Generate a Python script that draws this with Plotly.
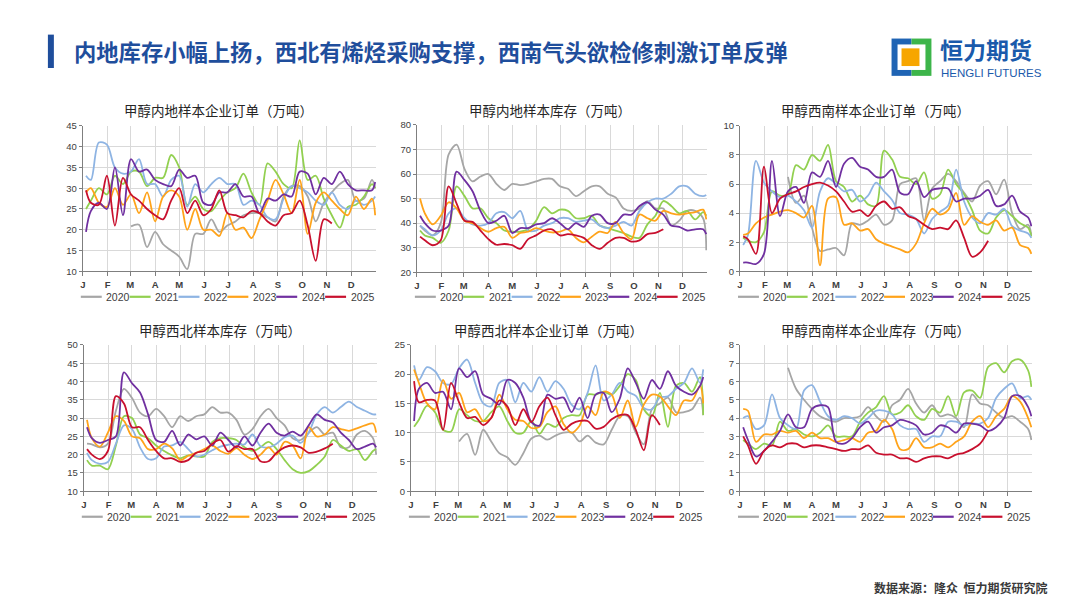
import plotly.graph_objects as go

W, H = 1080, 608
N = None

# sampling days (day-of-year) shared by every series
DAYS = [4] + list(range(10, 361, 10)) + [364]
YEARS = ["2020", "2021", "2022", "2023", "2024", "2025"]
COLORS = ["#a6a6a6", "#92d050", "#8eb4e3", "#ffa31a", "#7030a0", "#c8102e"]
MONTH_TICKS = [0, 31, 59, 90, 120, 151, 181, 212, 243, 273, 304, 334]
MONTH_LABELS = ["J", "F", "M", "A", "M", "J", "J", "A", "S", "O", "N", "D"]

# ---- 甲醇内地样本企业订单 ----
P1_2020 = [N]*6 + [20.8,21.2,15.8,19.5,16.5,15,13.5,10.5,19,19,22.5,19.5,21,22,23.5,24,24,23,22,28,30.5,30.5,28,22,26.5,29,31,32,27,27.5,32,30]
P1_2021 = [25,27,30,28.5,33,31,34,34,30.5,32.5,32.5,38,35,26,28,25,24.5,27,29,30,33.5,29,26,36,34,31,30,41.5,32,33,27.5,23.5,20.5,25.5,26,28,31,30]
P1_2022 = [33,32,41,40.5,35,33.5,34,37,31,31,28,32,33,25.5,31,29,31,32.5,31,31,26,27,26,23,22.5,27.5,30.5,30,29,27,26,29,26,25,27,26,27,28]
P1_2023 = [29,30,26.5,25.5,30,26,28.5,24,29,22,28,29.5,28,20,25,20,20,18.5,24,20,20.5,18,22.5,27,32,28.5,24,32,19,26.5,29,27,25,23.5,28,25,27.5,23.5]
P1_2024 = [19.5,24.5,26.5,25,35,23.5,37,34,34.5,32,31,30.5,34.5,32.5,33,26.5,26,29,29,31,28,28,24,27.5,27,28.5,28,34,33.5,28.5,32.5,31,34,31,29.5,29.5,29.5,31.5]
P1_2025 = [29.5,26.5,26,33,21,32.5,28.5,27,25,23.5,22.5,27,30,24,27,23.5,25,29.5,24,23.5,23,24.5,24,22,21,23.5,24,27,21,12.5,22.5,21.5] + [N]*6

# ---- 甲醇内地样本库存 ----
P2_2020 = [39,37,35,40,68,72,62,57,59,60,56,53.5,56,55.5,56,57,58,58,55,54,51,53,55,55,52,50.5,46,45,46,49,46,46,39,41,45,45,42,29]
P2_2021 = [37,35,34,32,37,55,51,46,46,42,40,37,36.5,36.5,37.5,41,46.5,44,45.5,45,42,42,43,39,38,37,36,34.5,34,39.5,43,49,47,44,45,41.5,44.5,43]
P2_2022 = [39,37.5,35,37,44,46,42,39.5,39,40,44,44.5,42,45,37,37,39,40,42,42,40.5,41,41.5,39,38,39,40.5,39,45,48.5,50,50,52,55,55,52,51,51.5]
P2_2023 = [50,44,39.5,43,48.5,46,41,40,38,36.5,38,38.5,34,36,36.5,38,37,36.2,36.5,37.5,34,32.2,34.5,36.5,36,40.5,36,33.5,43.5,42,41,45,44,43.5,44,44.5,45.5,41.5]
P2_2024 = [43,40,37,37,39,61,57.5,53,45,40,41,43,36,38,38,39.5,40,42,40,37.5,40,38.5,43,43.5,40,40,43.5,43.5,47,48.5,45.5,43.5,39,38.5,37,37.5,37.5,35.5]
P2_2025 = [34.5,33,31,33,55,48,41,40.5,37,33.5,31.2,31.5,31,29.5,33.5,35,37,37.5,35,35.5,35,34,31,29.5,32,34,34,32.5,33,35.5,36,37.5] + [N]*6

# ---- 甲醇西南样本企业订单 ----
P3_2020 = [N]*6 + [6.5,4.7,5.2,3,1.4,1.5,1.6,1.1,3.3,3.2,3.5,3.9,3.2,3.5,6,6.2,6.4,3.5,5.7,6.2,6.7,6.2,5.4,4.8,5.9,6.2,5.3,6.3,4,2.9,3.2,2.5]
P3_2021 = [2.3,2.1,2,2.7,5.5,5.2,5.3,7.3,7,8,7.6,8.7,6.2,5.8,4.8,5.2,4.6,4.5,8.3,7.7,6.5,6.4,6,6.8,5,5.3,7,6,5.3,4.2,2.8,2.6,3.7,4.2,3.8,3.3,3,2.4]
P3_2022 = [1.8,2.5,7.6,6.1,5.5,5.1,5.2,4.8,4.2,3,5.5,6.4,6,5.5,5.6,4.8,5.2,6.1,5.5,4.9,4,3.9,3.6,2.6,3.6,4.1,4.5,7,4.8,3.7,3.3,4,3.9,4.3,3.1,2.8,2.6,2.3]
P3_2023 = [2.5,2.6,3.3,3.7,3.9,4.1,4.2,4,3.7,4.5,0.4,5,5.1,3.2,3.3,2.8,2.9,2.2,1.9,1.7,1.5,1.3,1.9,3.3,4.3,3.9,4.2,5.4,3.2,3.8,3.4,3.2,3.5,2.8,3,1.8,1.6,1.2]
P3_2024 = [0.6,0.6,0.5,1.2,7.6,3.8,5.5,5.8,4.7,6.8,6.5,7.6,5.8,7.4,7.8,7.2,7,6.5,6.5,7,5.4,5.3,6.2,5.1,5.6,5.7,5.7,4.8,5,5,5.2,5.6,4.5,4.6,5.2,4.1,3.7,3.1]
P3_2025 = [2.4,2.2,1.2,7.2,4,5,5.3,5.5,5.8,6,6.1,5.9,5.5,4.8,4.1,4.2,3.8,4.5,4.8,4.3,4.4,3.8,3.6,3.2,2.9,3,2.9,3.5,2.3,1,1.3,2.1] + [N]*6

# ---- 甲醇西北样本库存 ----
P4_2020 = [23,22.8,22,23,32,38,35.5,31.5,30.5,32.5,30.5,27.5,30.5,29.2,30.5,31,33,31.5,31.5,29.5,25.5,27,30.5,32.5,30,28,24.5,24,26,27.5,25.5,26,22,22,25.5,26.5,24.5,20]
P4_2021 = [18.5,17,17,16,22.5,30.5,30,25.5,24.5,22.5,21,19.8,19,19.8,19.5,19.5,23.5,24.5,24.5,24,22,21,22,23.5,21.5,18.5,16,15,15.5,17.2,19.5,24,22.5,21,21.5,18.5,21,21.5]
P4_2022 = [20.5,18.5,17.5,18,23,28,27,22,18.8,19,22.2,22.5,23.5,21.5,19.5,20,21.2,22.2,22.7,23,22.8,25.5,22.3,22,23,24.8,25.2,23.2,26,31,33,31.5,33,34.5,33,32,31,31]
P4_2023 = [29.5,24.5,22.2,26,30.5,29.2,25,24.5,21.5,21.5,23,21.7,18.5,19.7,20.5,21.5,22.5,21,20.2,21.8,20,18.8,20,22,20,23.5,22.5,19,27.5,25,25.5,27.5,27,26.5,27.2,28,28.5,26]
P4_2024 = [27.5,24.5,23.2,24,25,42.5,39.5,37,31,24,23.5,26.5,22.5,25.5,24.2,25,22.5,26,24,22,25,22.5,26,28.5,26,25.2,26.3,25.2,28,31,29.5,28.8,26,24,21.5,22.2,23,22]
P4_2025 = [21.5,20,18.8,21,36,34,27.5,27.5,24,21,19,19,18,18.5,20.5,21,23,24,20.8,22.3,21.5,21.5,18.2,18.2,20.5,22,22.5,22,20.5,20.8,21.7,23] + [N]*6

# ---- 甲醇西北样本企业订单 ----
P5_2020 = [N]*6 + [8.5,9.8,6.2,10.5,8.5,6.5,5.8,4.5,6.5,9,9.5,8.8,9.5,10,10,8.5,9.5,8.3,8,10.5,12.8,12.8,10,8,14,15,16,13.5,13.5,14,16,13]
P5_2021 = [11,12.2,14.6,13.5,10.5,10.2,14,13,12,12,13.5,14.5,12,10,10,12,9.8,11.5,11,12.5,13,13,16.5,16.5,17,16.5,18,20,19,14,12.8,16.8,11,18,18.5,17,19.5,13]
P5_2022 = [21.5,19,21.2,20.5,18.5,18.3,21,22.5,18.5,15,14.5,18.5,19,15.2,18.5,17,19.5,17,18.8,17.5,14.8,14,16.8,21.5,15.5,16.5,18.5,17,16.3,14.2,14,16,16.2,17.5,18.5,21,18.5,20.8]
P5_2023 = [20.8,18.5,15,14,19,15.8,16.8,13.5,14,12,12.5,16.5,14,12.2,12,10.8,11,13.5,14.5,11.5,10,11.2,14.5,13,17,16.5,12.5,15.5,11,14.8,16.5,16.2,14.5,13,15.5,15.5,18,15]
P5_2024 = [12,17.5,18.5,16.8,17,14,21,19.5,20.5,16.5,15.8,14.8,19,18.5,16,11.8,11.2,16.5,15.8,16,13.5,16,12.5,16.5,16.8,13.5,15.8,21,18.5,15.8,19,17.5,20.5,18,17,16.5,18,19.5]
P5_2025 = [18.8,15.2,15.6,15.5,10.5,18.5,15.2,12.5,12.7,11.3,12.5,15.5,14.5,11.3,14,11.8,14.5,16,13,10.5,11.5,12,12,10.7,11,12.3,13,13,10.5,7,13,11.3] + [N]*6

# ---- 甲醇西南样本企业库存 ----
P6_2020 = [N]*6 + [6.75,5.6,5,4.5,4.1,3.9,3.8,4,4,4.1,4.6,4.1,3.8,4.7,5,5.6,4.8,4.3,4.7,4.1,4.2,4,3.5,5.3,4.8,4.7,4.3,4,4.1,3.8,3.4,2.8]
P6_2021 = [2.8,2.6,2.3,2.6,2.5,3.8,3.3,3.4,3.1,3,3.2,3.6,3,3,3,3.8,4.3,4.6,5.2,4.2,4.3,4.7,4.1,3.9,4.5,4.3,5.2,4.1,5.4,5.5,5.1,6.8,7,6.5,7.1,7.2,6.6,5.7]
P6_2022 = [4,4.1,3.4,3.6,5.3,4,3.6,3.4,5.5,5.8,4.9,4.1,3.9,4.1,4,3.7,4,4.4,4.4,4.2,3.6,3.4,3.4,2.7,3,3,3.8,3.8,3.6,3.7,3.7,4,5.1,5.6,5.9,5.1,5.2,5]
P6_2023 = [4.5,4.4,2.7,3.1,3.1,3.3,3.2,3.3,2.9,3.2,2.9,2.9,2.7,2.8,2.9,2.7,3.2,3.3,3.9,3.4,2.3,2.3,2.9,2.4,2.4,2.6,2.4,2.7,3,3.8,4.1,3.5,4.1,4.5,5.2,4.9,4,3.5]
P6_2024 = [3.5,2.8,1.9,2.2,2.7,3.3,4.2,3.5,3.5,4.5,4.7,4.6,2.7,2.6,2.9,3.5,3.8,3.2,3.5,3.6,3.9,3.8,3.6,3.1,3.2,3.6,3.5,3.2,3.7,3.7,3.6,3.3,3.5,4,5.2,5.2,4.6,4.1]
P6_2025 = [3,2.5,1.5,2.2,2.5,2.4,2.6,2.6,2.4,2.5,2.5,2.4,2.3,2.2,2.3,2.3,2.5,2.1,2,2,1.8,1.8,1.6,1.8,1.9,1.9,1.8,2,2.1,2.3,2.6,3.3] + [N]*6

TITLES = ["甲醇内地样本企业订单（万吨）", "甲醇内地样本库存（万吨）", "甲醇西南样本企业订单（万吨）",
          "甲醇西北样本库存（万吨）", "甲醇西北样本企业订单（万吨）", "甲醇西南样本企业库存（万吨）"]
SERIES = [
    [P1_2020, P1_2021, P1_2022, P1_2023, P1_2024, P1_2025],
    [P2_2020, P2_2021, P2_2022, P2_2023, P2_2024, P2_2025],
    [P3_2020, P3_2021, P3_2022, P3_2023, P3_2024, P3_2025],
    [P4_2020, P4_2021, P4_2022, P4_2023, P4_2024, P4_2025],
    [P5_2020, P5_2021, P5_2022, P5_2023, P5_2024, P5_2025],
    [P6_2020, P6_2021, P6_2022, P6_2023, P6_2024, P6_2025],
]
Y_RANGES = [(10, 45, 5), (20, 80, 10), (0, 10, 2), (10, 50, 5), (0, 25, 5), (0, 8, 1)]

# plot-area boxes in pixels: (left, top, right, bottom)
BOXES = [(72, 114, 366, 262), (407, 113, 698, 263), (731, 114, 1024, 262),
         (73, 337, 367, 486), (401, 337, 695, 486), (731, 337, 1024, 486)]
TITLE_POS = [(208, 98), (540, 98), (867, 98), (210, 322), (539, 322), (867, 322)]
LEGEND_Y = [288, 288, 288, 512, 512, 512]

def px(x):
    return x / W

def py(y):
    return 1 - y / H

CJK = "Noto Sans CJK SC"
LAT = "Liberation Sans"

fig = go.Figure()
layout = dict(width=W, height=H, margin=dict(l=0, r=0, t=0, b=0),
              paper_bgcolor="white", plot_bgcolor="white", showlegend=False)
shapes, annotations = [], []

for i in range(6):
    ax = "" if i == 0 else str(i + 1)
    l, t, r, b = BOXES[i]
    y0, y1, dt = Y_RANGES[i]
    layout["xaxis" + ax] = dict(
        domain=[px(l), px(r)], anchor="y" + ax, range=[0, 365],
        tickmode="array", tickvals=MONTH_TICKS,
        ticktext=["<b>%s</b>" % m for m in MONTH_LABELS],
        showgrid=True, gridcolor="#d9d9d9", gridwidth=1,
        showline=True, linecolor="#7f7f7f", linewidth=1,
        ticks="outside", ticklen=4, tickcolor="#7f7f7f",
        tickfont=dict(family=LAT, size=9.5, color="#404040"), zeroline=False, fixedrange=True)
    layout["yaxis" + ax] = dict(
        domain=[py(b), py(t)], anchor="x" + ax, range=[y0, y1], dtick=dt, tick0=y0,
        showgrid=True, gridcolor="#d9d9d9", gridwidth=1,
        showline=True, linecolor="#7f7f7f", linewidth=1,
        ticks="outside", ticklen=3, tickcolor="#7f7f7f",
        tickfont=dict(family=LAT, size=9.5, color="#404040"), zeroline=False, fixedrange=True)
    for k, vals in enumerate(SERIES[i]):
        fig.add_trace(go.Scatter(
            x=DAYS, y=vals, mode="lines", name=YEARS[k],
            line=dict(color=COLORS[k], width=1.8, shape="spline", smoothing=0.9),
            xaxis="x" + ax, yaxis="y" + ax, hoverinfo="skip", connectgaps=False))
    tx, ty = TITLE_POS[i]
    annotations.append(dict(x=px(tx), y=py(ty), xref="paper", yref="paper", text=TITLES[i],
                            showarrow=False, xanchor="center", yanchor="middle",
                            font=dict(family=CJK, size=13.5, color="#262626")))
    # manual legend
    sp = (r - l) / 6
    ly = LEGEND_Y[i]
    for k in range(6):
        x0 = l - 2 + k * sp
        shapes.append(dict(type="line", xref="paper", yref="paper", x0=px(x0), x1=px(x0 + 21),
                           y0=py(ly), y1=py(ly), line=dict(color=COLORS[k], width=2.2)))
        annotations.append(dict(x=px(x0 + 23.5), y=py(ly), xref="paper", yref="paper",
                                text=YEARS[k], showarrow=False, xanchor="left", yanchor="middle",
                                font=dict(family=LAT, size=10.5, color="#404040")))

# header
shapes.append(dict(type="rect", xref="paper", yref="paper", x0=px(37), x1=px(43),
                   y0=py(55), y1=py(21), fillcolor="#1f4e9c", line=dict(width=0)))
annotations.append(dict(x=px(61), y=py(38), xref="paper", yref="paper",
                        text="<b>内地库存小幅上扬，西北有烯烃采购支撑，西南气头欲检修刺激订单反弹</b>",
                        showarrow=False, xanchor="left", yanchor="middle",
                        font=dict(family=CJK, size=22.3, color="#1f4e9c")))
# logo
shapes += [
    dict(type="rect", xref="paper", yref="paper", x0=px(883), x1=px(903), y0=py(63), y1=py(25),
         fillcolor="#1f64b4", line=dict(width=0)),
    dict(type="rect", xref="paper", yref="paper", x0=px(903), x1=px(923), y0=py(63), y1=py(25),
         fillcolor="#3db54a", line=dict(width=0)),
    dict(type="rect", xref="paper", yref="paper", x0=px(889), x1=px(917), y0=py(57), y1=py(31),
         fillcolor="white", line=dict(width=0)),
    dict(type="rect", xref="paper", yref="paper", x0=px(893), x1=px(911), y0=py(53), y1=py(35),
         fillcolor="#f7a600", line=dict(width=0)),
]
annotations.append(dict(x=px(930), y=py(36), xref="paper", yref="paper", text="<b>恒力期货</b>",
                        showarrow=False, xanchor="left", yanchor="middle",
                        font=dict(family=CJK, size=23, color="#1a5aab")))
annotations.append(dict(x=px(931), y=py(60), xref="paper", yref="paper", text="HENGLI FUTURES",
                        showarrow=False, xanchor="left", yanchor="middle",
                        font=dict(family=LAT, size=11.5, color="#1a5aab")))
# footer
annotations.append(dict(x=px(1041), y=py(584), xref="paper", yref="paper",
                        text="<b>数据来源：隆众  恒力期货研究院</b>",
                        showarrow=False, xanchor="right", yanchor="middle",
                        font=dict(family=CJK, size=12, color="#3a3a3a")))

layout["shapes"] = shapes
layout["annotations"] = annotations
fig.update_layout(**layout)
fig.write_html("out.html")
